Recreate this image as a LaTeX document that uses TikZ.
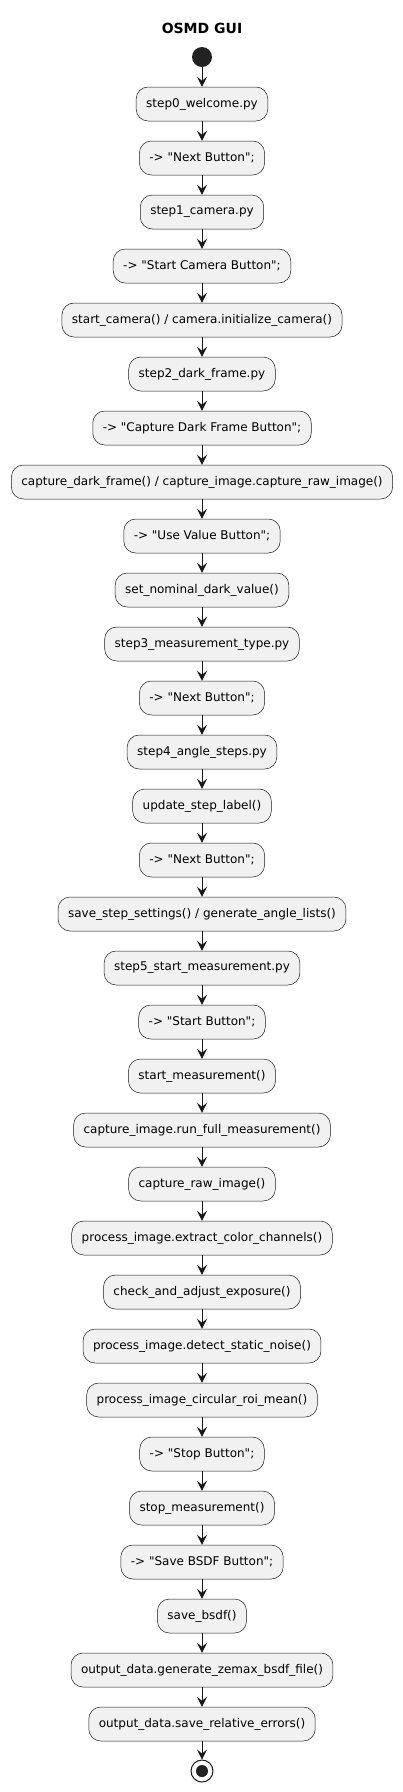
\documentclass[tikz,border=0pt]{standalone}
\usepackage{fontspec}
\setmainfont{DejaVu Sans}
\usepackage{tikz}
\usetikzlibrary{positioning}
\usetikzlibrary{arrows.meta}
\definecolor{boxFill}{HTML}{F1F1F1}
\definecolor{lineColor}{HTML}{181818}
\definecolor{dotColor}{HTML}{222222}
\newcommand{\btn}[1]{-> \textquotedbl{}#1\textquotedbl{};}

\begin{document}
\begin{tikzpicture}[x=1pt,y=1pt]

          \tikzstyle{stepNode} = [draw=lineColor, line width=0.5pt, fill=boxFill, rounded corners=12pt, minimum height=34pt, inner xsep=10pt, inner ysep=0pt, font=\fontsize{12}{14}\selectfont];
          \tikzstyle{startNode} = [circle, fill=dotColor, minimum size=20pt, inner sep=0pt];
          \tikzstyle{endNode} = [circle, draw=lineColor, line width=1pt, fill=white, minimum size=22pt, inner sep=0pt, path picture={\fill[dotColor] (path picture bounding box.center) circle (6pt);}];
          \tikzstyle{titleNode} = [font=\fontsize{14}{16}\selectfont\bfseries];

          \tikzstyle{flowEdge} = [line width=1pt, lineColor, -{Stealth[length=10pt, width=10pt, inset=4pt]}];

          \useasboundingbox (0,0) rectangle (403,-1792);

          \node[titleNode] (title) at (202,-28) {OSMD GUI};
          \node[startNode] (start) at (202,-57) {};

          \node[stepNode] (welcome) at (202,-104) {step0\_welcome.py};
          \node[stepNode] (nexta) at (202,-158) {\btn{Next Button}};
          \node[stepNode] (camera) at (202,-212) {step1\_camera.py};
          \node[stepNode] (startcam) at (202,-266) {\btn{Start Camera Button}};
          \node[stepNode] (initcam) at (202,-320) {start\_camera() / camera.initialize\_camera()};
          \node[stepNode] (dark) at (202,-374) {step2\_dark\_frame.py};
          \node[stepNode] (capdark) at (202,-428) {\btn{Capture Dark Frame Button}};
          \node[stepNode] (darkimg) at (202,-482) {capture\_dark\_frame() / capture\_image.capture\_raw\_image()};
          \node[stepNode] (usevalue) at (202,-536) {\btn{Use Value Button}};
          \node[stepNode] (nominal) at (202,-590) {set\_nominal\_dark\_value()};
          \node[stepNode] (mtype) at (202,-644) {step3\_measurement\_type.py};
          \node[stepNode] (nextb) at (202,-698) {\btn{Next Button}};
          \node[stepNode] (angle) at (202,-752) {step4\_angle\_steps.py};
          \node[stepNode] (label) at (202,-806) {update\_step\_label()};
          \node[stepNode] (nextc) at (202,-860) {\btn{Next Button}};
          \node[stepNode] (settings) at (202,-914) {save\_step\_settings() / generate\_angle\_lists()};
          \node[stepNode] (startpy) at (202,-968) {step5\_start\_measurement.py};
          \node[stepNode] (startbtn) at (202,-1022) {\btn{Start Button}};
          \node[stepNode] (startmeas) at (202,-1076) {start\_measurement()};
          \node[stepNode] (fullmeas) at (202,-1130) {capture\_image.run\_full\_measurement()};
          \node[stepNode] (raw) at (202,-1184) {capture\_raw\_image()};
          \node[stepNode] (channels) at (202,-1238) {process\_image.extract\_color\_channels()};
          \node[stepNode] (exposure) at (202,-1292) {check\_and\_adjust\_exposure()};
          \node[stepNode] (noise) at (202,-1346) {process\_image.detect\_static\_noise()};
          \node[stepNode] (roi) at (202,-1400) {process\_image\_circular\_roi\_mean()};
          \node[stepNode] (stopbtn) at (202,-1454) {\btn{Stop Button}};
          \node[stepNode] (stopmeas) at (202,-1508) {stop\_measurement()};
          \node[stepNode] (savebtn) at (202,-1562) {\btn{Save BSDF Button}};
          \node[stepNode] (bsdf) at (202,-1616) {save\_bsdf()};
          \node[stepNode] (zemax) at (202,-1670) {output\_data.generate\_zemax\_bsdf\_file()};
          \node[stepNode] (errors) at (202,-1724) {output\_data.save\_relative\_errors()};

          \node[endNode] (stop) at (202,-1771) {};

          \draw[flowEdge] (start) -- (welcome);
          \draw[flowEdge] (welcome) -- (nexta);
          \draw[flowEdge] (nexta) -- (camera);
          \draw[flowEdge] (camera) -- (startcam);
          \draw[flowEdge] (startcam) -- (initcam);
          \draw[flowEdge] (initcam) -- (dark);
          \draw[flowEdge] (dark) -- (capdark);
          \draw[flowEdge] (capdark) -- (darkimg);
          \draw[flowEdge] (darkimg) -- (usevalue);
          \draw[flowEdge] (usevalue) -- (nominal);
          \draw[flowEdge] (nominal) -- (mtype);
          \draw[flowEdge] (mtype) -- (nextb);
          \draw[flowEdge] (nextb) -- (angle);
          \draw[flowEdge] (angle) -- (label);
          \draw[flowEdge] (label) -- (nextc);
          \draw[flowEdge] (nextc) -- (settings);
          \draw[flowEdge] (settings) -- (startpy);
          \draw[flowEdge] (startpy) -- (startbtn);
          \draw[flowEdge] (startbtn) -- (startmeas);
          \draw[flowEdge] (startmeas) -- (fullmeas);
          \draw[flowEdge] (fullmeas) -- (raw);
          \draw[flowEdge] (raw) -- (channels);
          \draw[flowEdge] (channels) -- (exposure);
          \draw[flowEdge] (exposure) -- (noise);
          \draw[flowEdge] (noise) -- (roi);
          \draw[flowEdge] (roi) -- (stopbtn);
          \draw[flowEdge] (stopbtn) -- (stopmeas);
          \draw[flowEdge] (stopmeas) -- (savebtn);
          \draw[flowEdge] (savebtn) -- (bsdf);
          \draw[flowEdge] (bsdf) -- (zemax);
          \draw[flowEdge] (zemax) -- (errors);
          \draw[flowEdge] (errors) -- (stop);
        \end{tikzpicture}
\end{document}
